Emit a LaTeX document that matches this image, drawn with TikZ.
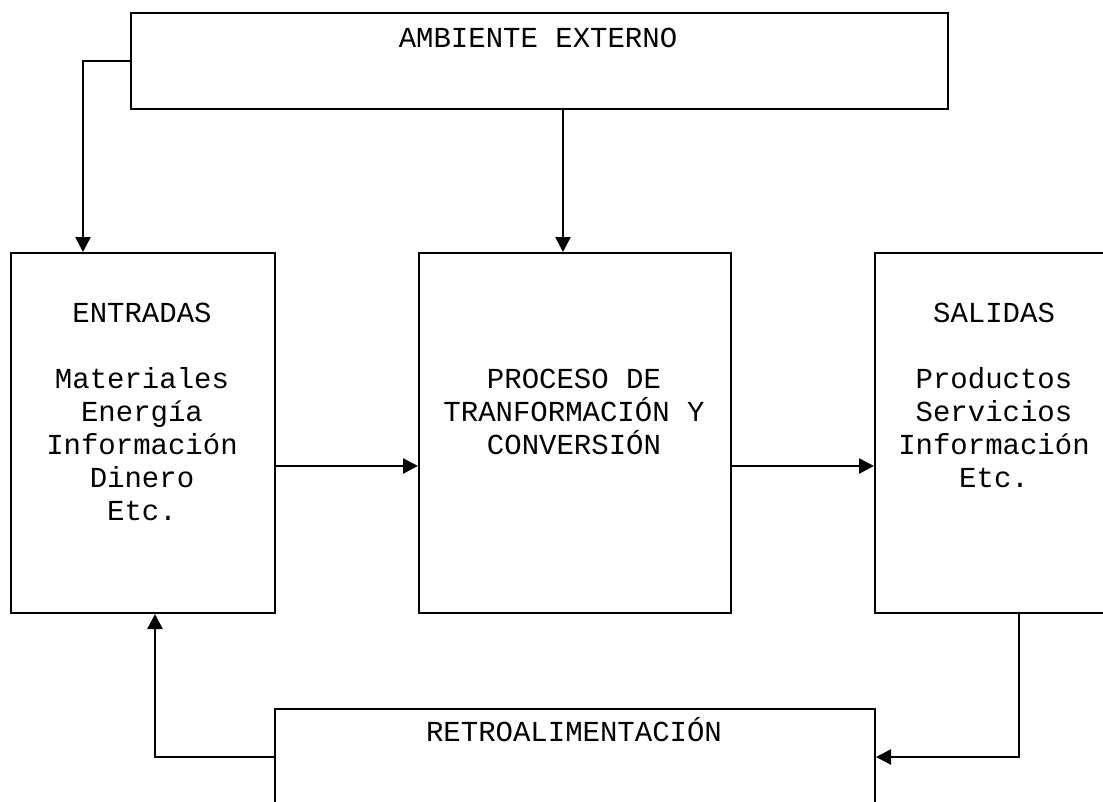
\documentclass[tikz,border=0pt]{standalone}
\usepackage{fontspec}
\newfontfamily\courfont{Liberation Mono}
\usetikzlibrary{arrows.meta}
\begin{document}
\begin{tikzpicture}[x=1pt,y=-1pt,
 box/.style={draw,line width=2pt,inner sep=0pt,anchor=north west},
 conn/.style={line width=2.5pt,-{Triangle[length=15pt,width=15pt]}},
 lbl/.style={font=\courfont\fontsize{29}{33}\selectfont,align=center,anchor=base,inner sep=0pt}]
\useasboundingbox (0,0) rectangle (1103,801);
\clip (0,0) rectangle (1103,801);
\node[box,minimum width=817pt,minimum height=96pt] (amb) at (130,12) {};
\node[box,minimum width=264pt,minimum height=360pt] (ent) at (10,252) {};
\node[box,minimum width=312pt,minimum height=360pt] (proc) at (418,252) {};
\node[box,minimum width=240pt,minimum height=360pt] (sal) at (874,252) {};
\node[box,minimum width=600pt,minimum height=120pt] (ret) at (274,708) {};
\draw[conn] (amb.west) -| ([xshift=-60pt]ent.north);
\draw[conn] ([xshift=-12pt]proc.north |- amb.south) -- ([xshift=-12pt]proc.north);
\draw[conn] ([yshift=-33pt]ent.east) -- ([yshift=-33pt]proc.west);
\draw[conn] ([yshift=-33pt]proc.east) -- ([yshift=-33pt]sal.west);
\draw[conn] ([xshift=24pt]sal.south) |- ([yshift=12pt]ret.east);
\draw[conn] ([yshift=12pt]ret.west) -| ([xshift=12pt]ent.south);
\node[lbl] (tamb) at (538,47) {AMBIENTE EXTERNO};
\node[lbl] (tent) at (142,520) {ENTRADAS\\[33pt]Materiales\\Energía\\Información\\Dinero\\Etc.};
\node[lbl] (tproc) at (574,454) {PROCESO DE\\TRANFORMACIÓN Y\\CONVERSIÓN};
\node[lbl] (tsal) at (994,487) {SALIDAS\\[33pt]Productos\\Servicios\\Información\\Etc.};
\node[lbl] (tret) at (574,741) {RETROALIMENTACIÓN};
\end{tikzpicture}
\end{document}
